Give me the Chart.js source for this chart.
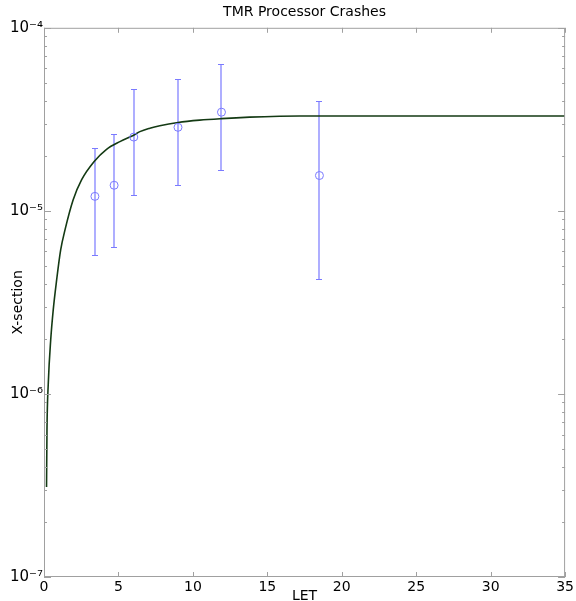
<!DOCTYPE html>
<html>
<head>
<meta charset="utf-8">
<script src="https://cdn.jsdelivr.net/npm/chart.js@4/dist/chart.umd.min.js"></script>
<style>
  body { margin: 0; background: #fff; }
  #wrap { width: 576px; height: 601px; }
</style>
</head>
<body>
<div id="wrap"><canvas id="chart"></canvas></div>
<script>
// measured points (LET, cross-section) with error bar limits
const letValues = [3.42, 4.71, 6.03, 9.0, 11.92, 18.5];
const xsValues = [1.20e-5, 1.38e-5, 2.53e-5, 2.86e-5, 3.46e-5, 1.56e-5];
const xsUpper = [2.20e-5, 2.62e-5, 4.66e-5, 5.25e-5, 6.34e-5, 3.99e-5];
const xsLower = [5.75e-6, 6.34e-6, 1.22e-5, 1.38e-5, 1.67e-5, 4.25e-6];

// fitted curve
const fitLet = [0.17, 0.20, 0.29, 0.45, 0.62, 0.85, 1.12, 1.41, 1.96, 2.53, 3.37, 4.20, 5.10, 5.99,
                6.44, 7.11, 7.78, 9.0, 10.46, 11.92, 13.81, 15.82, 17.17, 25, 35];
const fitXs = [3.1e-7, 6.35e-7, 1.15e-6, 1.97e-6, 2.88e-6, 4.20e-6, 6.12e-6, 7.87e-6, 1.15e-5, 1.48e-5,
               1.86e-5, 2.17e-5, 2.39e-5, 2.58e-5, 2.71e-5, 2.83e-5, 2.92e-5, 3.04e-5, 3.13e-5, 3.19e-5,
               3.25e-5, 3.29e-5, 3.30e-5, 3.30e-5, 3.30e-5];

const xTicks = [0, 5, 10, 15, 20, 25, 30, 35];
const yTicks = [1e-7, 1e-6, 1e-5, 1e-4];

const FONT = 'DejaVu Sans';
const sup = {'-': '\u207B', '0': '\u2070', '1': '\u00B9', '2': '\u00B2', '3': '\u00B3', '4': '\u2074',
             '5': '\u2075', '6': '\u2076', '7': '\u2077', '8': '\u2078', '9': '\u2079'};
function powLabel(v) {
    const e = String(Math.round(Math.log10(v)));
    return '10' + e.split('').map(c => sup[c]).join('');
}

// error bars under the points
const errorBars = {
    id: 'errorBars',
    beforeDatasetsDraw(chart) {
        const {ctx, scales: {x, y}} = chart;
        ctx.save();
        ctx.strokeStyle = '#7a7aff';
        ctx.lineWidth = 1.2;
        letValues.forEach((l, i) => {
            const px = Math.round(x.getPixelForValue(l));
            const top = Math.round(y.getPixelForValue(xsUpper[i])) + 0.5;
            const bot = Math.round(y.getPixelForValue(xsLower[i])) + 0.5;
            ctx.beginPath();
            ctx.moveTo(px, top); ctx.lineTo(px, bot);
            ctx.moveTo(px - 3, top); ctx.lineTo(px + 3, top);
            ctx.moveTo(px - 3, bot); ctx.lineTo(px + 3, bot);
            ctx.stroke();
        });
        ctx.restore();
    }
};

// box and inward ticks like the original
const frame = {
    id: 'frame',
    afterDatasetsDraw(chart) {
        const {ctx, chartArea: a, scales: {x, y}} = chart;
        ctx.save();
        ctx.strokeStyle = '#a0a0a0';
        ctx.lineWidth = 1;
        ctx.strokeRect(a.left + 0.5, a.top + 0.5, a.right - a.left - 1, a.bottom - a.top - 1);
        ctx.beginPath();
        xTicks.forEach(v => {
            const px = Math.round(x.getPixelForValue(v)) + 0.5;
            ctx.moveTo(px, a.bottom); ctx.lineTo(px, a.bottom - 5);
            ctx.moveTo(px, a.top); ctx.lineTo(px, a.top + 5);
        });
        for (let e = -7; e <= -4; e++) {
            for (let m = 1; m < 10; m++) {
                const v = m * Math.pow(10, e);
                if (v > 1e-4 * 1.0001) break;
                const py = Math.round(y.getPixelForValue(v)) + 0.5;
                const len = m === 1 ? 7 : 3;
                ctx.moveTo(a.left, py); ctx.lineTo(a.left + len, py);
                ctx.moveTo(a.right, py); ctx.lineTo(a.right - len, py);
            }
        }
        ctx.stroke();
        ctx.restore();
    }
};

new Chart(document.getElementById('chart'), {
    type: 'scatter',
    data: {
        datasets: [
            {
                label: 'data',
                data: letValues.map((l, i) => ({x: l, y: xsValues[i]})),
                pointStyle: 'circle',
                pointRadius: 4,
                pointBorderWidth: 1,
                pointBorderColor: '#7a7aff',
                pointBackgroundColor: 'rgba(0,0,0,0)',
                showLine: false,
                order: 0
            },
            {
                label: 'fit',
                data: fitLet.map((l, i) => ({x: l, y: fitXs[i]})),
                showLine: true,
                borderColor: '#143a14',
                borderWidth: 1.6,
                pointRadius: 0,
                cubicInterpolationMode: 'monotone',
                order: 1
            }
        ]
    },
    options: {
        responsive: true,
        maintainAspectRatio: false,
        animation: false,
        layout: { padding: { left: 0, right: 10, top: 0, bottom: 0 } },
        plugins: {
            legend: { display: false },
            tooltip: { enabled: false },
            title: {
                display: true,
                text: 'TMR Processor Crashes',
                fullSize: false,
                color: '#000',
                font: { family: FONT, size: 14, weight: 'normal' },
                padding: { top: 4, bottom: 7 }
            }
        },
        scales: {
            x: {
                type: 'linear',
                min: 0,
                max: 35,
                afterBuildTicks: axis => { axis.ticks = xTicks.map(v => ({value: v})); },
                afterFit: s => { s.height = 24; },
                grid: { display: false, drawTicks: false },
                border: { display: false },
                ticks: {
                    padding: 2,
                    color: '#000',
                    maxRotation: 0,
                    autoSkip: false,
                    font: { family: FONT, size: 14 }
                },
                title: {
                    display: true,
                    text: 'LET',
                    color: '#000',
                    font: { family: FONT, size: 14 },
                    padding: { top: 0, bottom: -4 }
                }
            },
            y: {
                type: 'logarithmic',
                min: 1e-7,
                max: 1e-4,
                afterBuildTicks: axis => { axis.ticks = yTicks.map(v => ({value: v})); },
                afterFit: s => { s.width = 44; },
                grid: { display: false, drawTicks: false },
                border: { display: false },
                ticks: {
                    padding: 1,
                    color: '#000',
                    autoSkip: false,
                    font: { family: FONT, size: 15 },
                    callback: v => powLabel(v)
                },
                title: {
                    display: true,
                    text: 'X-section',
                    color: '#000',
                    font: { family: FONT, size: 14 },
                    padding: { top: 10, bottom: 0 }
                }
            }
        }
    },
    plugins: [errorBars, frame]
});
</script>
</body>
</html>
